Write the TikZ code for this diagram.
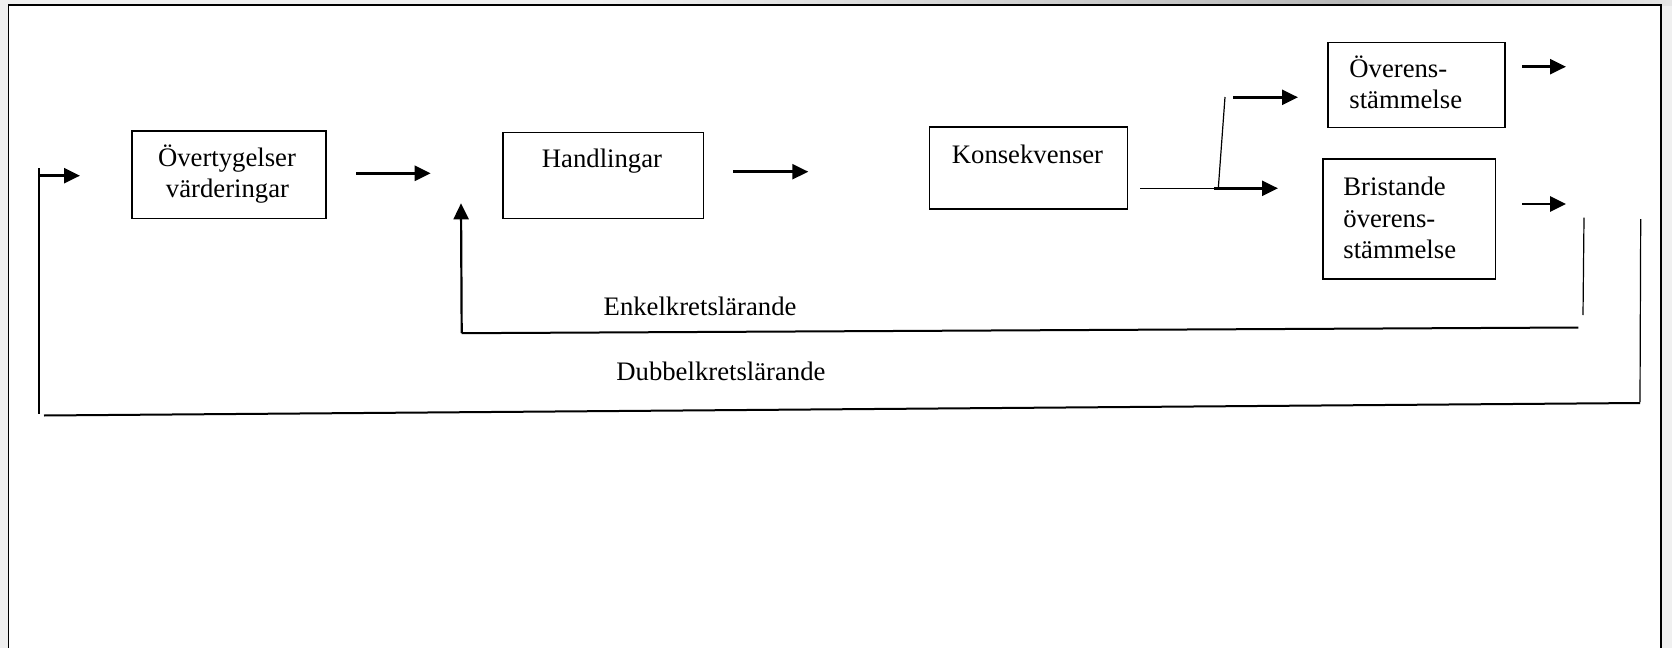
\documentclass[tikz,border=0pt]{standalone}
\usepackage{fontspec}
\setmainfont{Liberation Serif}
\usetikzlibrary{arrows.meta}
\begin{document}
\begin{tikzpicture}[x=0.5pt,y=-0.5pt,
 box/.style={draw, line width=0.8pt, inner sep=0pt},
 txt/.style={inner sep=0pt, font=\fontsize{13.35pt}{15.75pt}\selectfont},
 thinline/.style={line width=0.6pt},
 loopline/.style={line width=1pt},
 arr/.style={line width=1.3pt, -{Triangle[length=8pt,width=7.5pt]}},
]
\useasboundingbox (0,0) rectangle (1672,648);
% background and page frame
\fill[black!6] (0,0) rectangle (1672,648);
\shade[left color=black!6, right color=black!28] (600,0) rectangle (1350,5);
\shade[left color=black!28, right color=black!10] (1350,0) rectangle (1672,5);
\fill[white] (8.5,5) rectangle (1661,648);
\draw[line width=0.8pt] (8.5,660) -- (8.5,5) -- (1661,5) -- (1661,660);

% boxes
\node[box, minimum width=97pt, minimum height=43.8pt] (b1) at (228.7,174.5) {};
\node[box, minimum width=100.3pt, minimum height=43pt] (b2) at (603,175.3) {};
\node[box, minimum width=99pt, minimum height=41.15pt] (b3) at (1028.3,167.85) {};
\node[box, minimum width=88.5pt, minimum height=42.5pt] (b4) at (1416.5,84.8) {};
\node[box, minimum width=86.25pt, minimum height=60pt] (b5) at (1409.25,219) {};

% texts
\node[txt, anchor=base] (t1a) at (227,166.7) {Övertygelser};
\node[txt, anchor=base] (t1b) at (227.5,197) {värderingar};
\node[txt, anchor=base] (t2) at (602,167.3) {Handlingar};
\node[txt, anchor=base] (t3) at (1027.5,163.3) {Konsekvenser};
\node[txt, anchor=base west] (t4a) at (1349,77) {Överens-};
\node[txt, anchor=base west] (t4b) at (1349,108) {stämmelse};
\node[txt, anchor=base west] (t5a) at (1343,195) {Bristande};
\node[txt, anchor=base west] (t5b) at (1343,227) {överens-};
\node[txt, anchor=base west] (t5c) at (1343,258) {stämmelse};
\node[txt, anchor=base west] (enk) at (603.3,315) {Enkelkretslärande};
\node[txt, anchor=base west] (dub) at (616,380.7) {Dubbelkretslärande};

% connector end points
\coordinate (la0) at (39,175.7);   \coordinate (la1) at (80,175.7);
\coordinate (lv0) at (39,168);     \coordinate (lv1) at (39,414);
\coordinate (a10) at (356,173.3);  \coordinate (a11) at (430.7,173.3);
\coordinate (a20) at (733.3,171.7);\coordinate (a21) at (808.3,171.7);
\coordinate (k0) at (1140,188.3);  \coordinate (k1) at (1218.3,188.3);
\coordinate (ka0) at (1214,188.3); \coordinate (ka1) at (1278,188.3);
\coordinate (dg) at (1225,97);
\coordinate (o0) at (1233,97.3);   \coordinate (o1) at (1298,97.3);
\coordinate (r40) at (1522,66.7);  \coordinate (r41) at (1566,66.7);
\coordinate (r50) at (1522,204);   \coordinate (r51) at (1566,204);
\coordinate (ev0) at (1584,217.7); \coordinate (ev1) at (1583,315);
\coordinate (eh0) at (1578.3,327.5); \coordinate (eh1) at (461.7,333.2);
\coordinate (eu) at (461,203.3);
\coordinate (dv0) at (1640.7,219); \coordinate (dv1) at (1640,402);
\coordinate (dh0) at (1640,403); \coordinate (dh1) at (44,415.5);

% connectors
\draw[thinline] (lv0) -- (lv1);
\draw[arr] (la0) -- (la1);
\draw[arr] (a10) -- (a11);
\draw[arr] (a20) -- (a21);
\draw[thinline] (k0) -- (k1);
\draw[arr] (ka0) -- (ka1);
\draw[thinline] (k1) -- (dg);
\draw[arr] (o0) -- (o1);
\draw[arr] (r40) -- (r41);
\draw[arr] (r50) -- (r51);
\draw[thinline] (ev0) -- (ev1);
\draw[loopline] (eh0) -- (eh1);
\draw[arr, line width=1.1pt] (eh1) -- (eu);
\draw[thinline] (dv0) -- (dv1);
\draw[loopline] (dh0) -- (dh1);
\end{tikzpicture}
\end{document}
